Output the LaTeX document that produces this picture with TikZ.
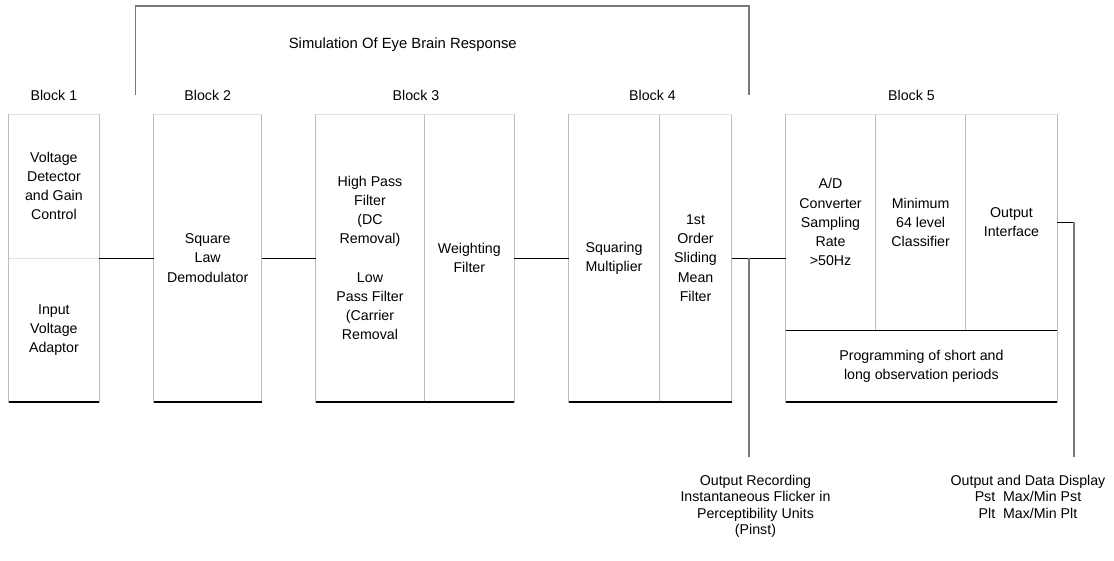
\documentclass[tikz,border=0pt]{standalone}
\usepackage{fontspec}
\setmainfont{Liberation Sans}
\definecolor{sidegray}{RGB}{190,190,190}
\definecolor{topgray}{RGB}{225,225,225}
\definecolor{outgray}{RGB}{120,120,120}
\newcommand{\bfnt}{\fontsize{14.2}{19.2}\selectfont}
\newcommand{\lfnt}{\fontsize{14.2}{16.2}\selectfont}
\begin{document}
\begin{tikzpicture}[x=1pt,y=-1pt,
  cell/.style={inner sep=0pt, outer sep=0pt, align=center, font=\bfnt},
  lbl/.style={inner sep=0pt, outer sep=0pt, align=center, font=\lfnt},
  side/.style={draw=sidegray, line width=0.9pt},
  topl/.style={draw=topgray, line width=0.9pt},
  botl/.style={draw=black, line width=1.3pt},
  conn/.style={draw=black, line width=1pt},
  outl/.style={draw=outgray, line width=2pt},
  brk/.style={draw=outgray, line width=1.5pt}]
\useasboundingbox (0,0) rectangle (1114,560);
\fill[white] (0,0) rectangle (1114,560);

% cells
\node[cell, minimum width=90.8pt, minimum height=144pt] (b1a) at (53.9,186) {Voltage\\Detector\\and Gain\\Control};
\node[cell, minimum width=90.8pt, minimum height=144pt] (b1b) at (53.9,330) {Input\\Voltage\\Adaptor};
\node[cell, minimum width=108.2pt, minimum height=288pt] (b2) at (207.7,258) {Square\\Law\\Demodulator};
\node[cell, minimum width=108.6pt, minimum height=288pt] (b3a) at (370,258) {High Pass\\Filter\\(DC\\Removal)\\[19.2pt]Low\\Pass Filter\\(Carrier\\Removal};
\node[cell, minimum width=90pt, minimum height=288pt] (b3b) at (469.3,258) {Weighting\\Filter};
\node[cell, minimum width=90.7pt, minimum height=288pt] (b4a) at (614.05,258) {Squaring\\Multiplier};
\node[cell, minimum width=72.3pt, minimum height=288pt] (b4b) at (695.55,258) {1st\\Order\\Sliding\\Mean\\Filter};
\node[cell, minimum width=89.9pt, minimum height=216.3pt] (b5a) at (830.55,222.15) {A/D\\Converter\\Sampling\\Rate\\>50Hz};
\node[cell, minimum width=90.3pt, minimum height=216.3pt] (b5b) at (920.65,222.15) {Minimum\\64 level\\Classifier};
\node[cell, minimum width=91.4pt, minimum height=216.3pt] (b5c) at (1011.5,222.15) {Output\\Interface};
\node[cell, minimum width=271.6pt, minimum height=71.7pt] (b5d) at (921.4,366.15) {Programming of short and\\long observation periods};

% borders
\foreach \n in {b1a,b1b,b2,b3a,b3b,b4a,b4b,b5a,b5b,b5c,b5d}{
  \draw[side] (\n.north west) rectangle (\n.south east);
}
\foreach \n in {b1a,b2,b3a,b3b,b4a,b4b,b5a,b5b,b5c}{
  \draw[topl] (\n.north west) -- (\n.north east);
}
\draw[topl] (b1b.north west) -- (b1b.north east);
\foreach \n in {b1b,b2,b3a,b3b,b4a,b4b,b5a,b5b,b5c,b5d}{
  \draw[botl] (\n.south west) -- (\n.south east);
}

% block labels
\node[cell] (l1) at (53.9,95) {Block 1};
\node[cell] (l2) at (207.7,95) {Block 2};
\node[cell] (l3) at (416,95) {Block 3};
\node[cell] (l4) at (652.5,95) {Block 4};
\node[cell] (l5) at (911.5,95) {Block 5};

% bracket and title
\coordinate (brL) at (135.7,95);
\coordinate (brT) at (440,6);
\coordinate (brR) at (749,95);
\draw[brk] (brL) |- (brT) -| (brR);
\node[cell, font=\fontsize{14.8}{18}\selectfont] (title) at (402.8,44.5) {Simulation Of Eye Brain Response};

% connectors
\draw[conn] (b1a.south east) -- (b2.west);
\draw[conn] (b2.east) -- (b3a.west);
\draw[conn] (b3b.east) -- (b4a.west);
\draw[conn] (b4b.east) -- (b4b.east -| b5a.west);

% outputs
\coordinate (o1) at (749.3,456.7);
\coordinate (o2) at (1073.5,456.7);
\draw[outl] (b4b.east -| o1) -- (o1);
\draw[conn] (b5c.east) -- (b5c.east -| o2);
\draw[outl] (b5c.east -| o2) -- (o2);

\node[lbl, anchor=north] (out1) at (755.5,475.5) {Output Recording\\Instantaneous Flicker in\\Perceptibility Units\\(Pinst)};
\node[lbl, anchor=north] (out2) at (1028,475.5) {Output and Data Display\\Pst\ \ Max/Min Pst\\Plt\ \ Max/Min Plt};
\end{tikzpicture}
\end{document}
